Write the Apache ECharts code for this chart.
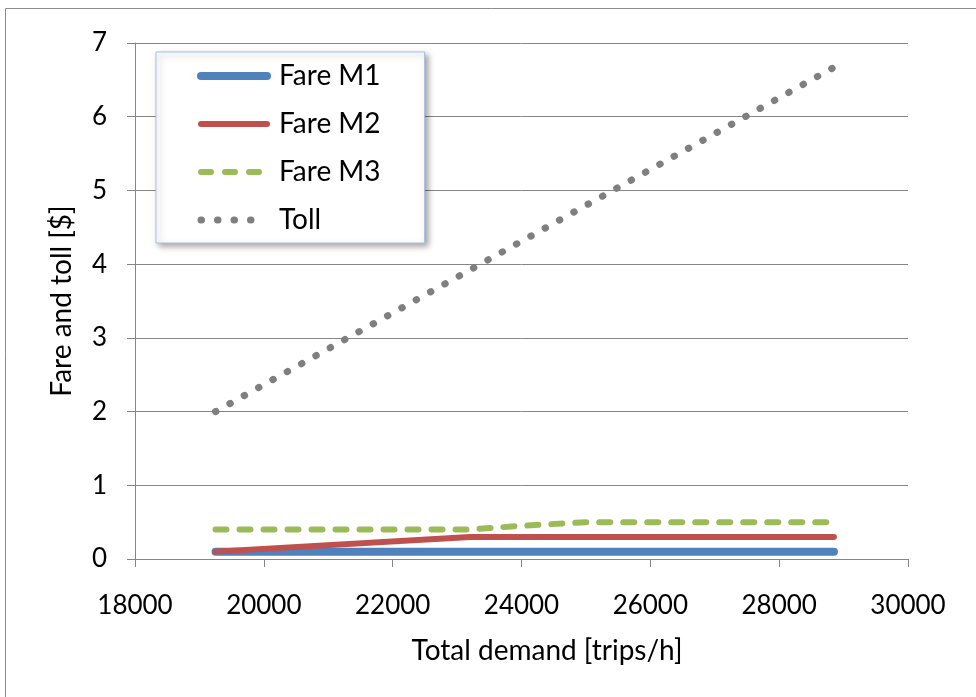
<!DOCTYPE html>
<html>
<head>
<meta charset="utf-8">
<script src="https://cdn.jsdelivr.net/npm/echarts@6/dist/echarts.min.js"></script>
<style>
  html, body { margin: 0; padding: 0; background: #fff; }
  #chart { width: 976px; height: 697px; }
</style>
</head>
<body>
<div id="chart"></div>
<script>
// Demand (trips/h) against fare and toll ($)
const fareM1 = [[19250, 0.1], [28850, 0.1]];
const fareM2 = [[19250, 0.1], [23200, 0.3], [28850, 0.3]];
const fareM3 = [[19250, 0.4], [23200, 0.4], [24000, 0.45], [25000, 0.5], [28850, 0.5]];
const toll = [[19250, 2.0], [28850, 6.67]];
const seriesNames = ['Fare M1', 'Fare M2', 'Fare M3', 'Toll'];

const FONT = 'Lato, "Open Sans", sans-serif';
const GRID_COLOR = '#868686';

const styles = {
  'Fare M1': { color: '#4f81bd', width: 8, type: 'solid' },
  'Fare M2': { color: '#c0504d', width: 6, type: 'solid' },
  'Fare M3': { color: '#9bbb59', width: 6, type: [11, 13] },
  'Toll':    { color: '#7f7f7f', width: 7, type: [0.5, 15.9] }
};
const legendTypes = {
  'Fare M1': 'solid',
  'Fare M2': 'solid',
  'Fare M3': [10, 14],
  'Toll': [0.5, 16]
};

const chart = echarts.init(document.getElementById('chart'), null, { renderer: 'canvas' });

chart.setOption({
  animation: false,
  backgroundColor: '#ffffff',
  textStyle: { fontFamily: FONT },
  graphic: [{
    type: 'rect',
    shape: { x: 5.5, y: 8.5, width: 1200, height: 1000 },
    style: { fill: 'none', stroke: '#8c8c8c', lineWidth: 1 },
    silent: true,
    z: -10
  }],
  grid: { left: 135, right: 68, top: 43, bottom: 138, containLabel: false },
  legend: {
    orient: 'vertical',
    left: 156,
    top: 52,
    padding: [10, 44, 9, 41],
    itemWidth: 66,
    itemHeight: 14,
    itemGap: 20,
    backgroundColor: '#ffffff',
    borderColor: '#a9bfe3',
    borderWidth: 1,
    shadowColor: 'rgba(0,0,0,0.35)',
    shadowBlur: 6,
    shadowOffsetX: 3,
    shadowOffsetY: 3,
    textStyle: { fontFamily: FONT, fontSize: 28, color: '#000', padding: [0, 0, 0, 7] },
    data: seriesNames.map(function (n) {
      return {
        name: n,
        itemStyle: { opacity: 0 },
        lineStyle: {
          color: styles[n].color, width: styles[n].width, type: legendTypes[n],
          cap: 'round', opacity: 1
        }
      };
    })
  },
  xAxis: {
    type: 'value',
    min: 18000,
    max: 30000,
    interval: 2000,
    name: 'Total demand [trips/h]',
    nameLocation: 'middle',
    nameGap: 78,
    nameTextStyle: { fontFamily: FONT, fontSize: 28, color: '#000', padding: [0, 0, 0, 51] },
    axisLine: { show: true, lineStyle: { color: GRID_COLOR, width: 1 } },
    axisTick: { show: true, inside: false, length: 8, lineStyle: { color: GRID_COLOR } },
    axisLabel: {
      fontFamily: FONT, fontSize: 26, color: '#000', margin: 34,
      formatter: function (v) { return String(v); }
    },
    splitLine: { show: false }
  },
  yAxis: {
    type: 'value',
    min: 0,
    max: 7,
    interval: 1,
    name: 'Fare and toll [$]',
    nameLocation: 'middle',
    nameGap: 59,
    nameRotate: 90,
    nameTextStyle: { fontFamily: FONT, fontSize: 28, color: '#000' },
    axisLine: { show: true, lineStyle: { color: GRID_COLOR, width: 1 } },
    axisTick: { show: true, inside: false, length: 8, lineStyle: { color: GRID_COLOR } },
    axisLabel: { fontFamily: FONT, fontSize: 26, color: '#000', margin: 28 },
    splitLine: { show: true, lineStyle: { color: GRID_COLOR, width: 1 } }
  },
  series: [
    { name: 'Fare M1', data: fareM1, z: 2 },
    { name: 'Fare M2', data: fareM2, z: 3 },
    { name: 'Fare M3', data: fareM3, z: 4 },
    { name: 'Toll', data: toll, z: 5 }
  ].map(function (s) {
    const st = styles[s.name];
    return {
      name: s.name, type: 'line', data: s.data, z: s.z, symbol: 'none',
      lineStyle: { color: st.color, width: st.width, type: st.type, cap: 'round', join: 'round' },
      itemStyle: { color: st.color }
    };
  })
});
</script>
</body>
</html>
